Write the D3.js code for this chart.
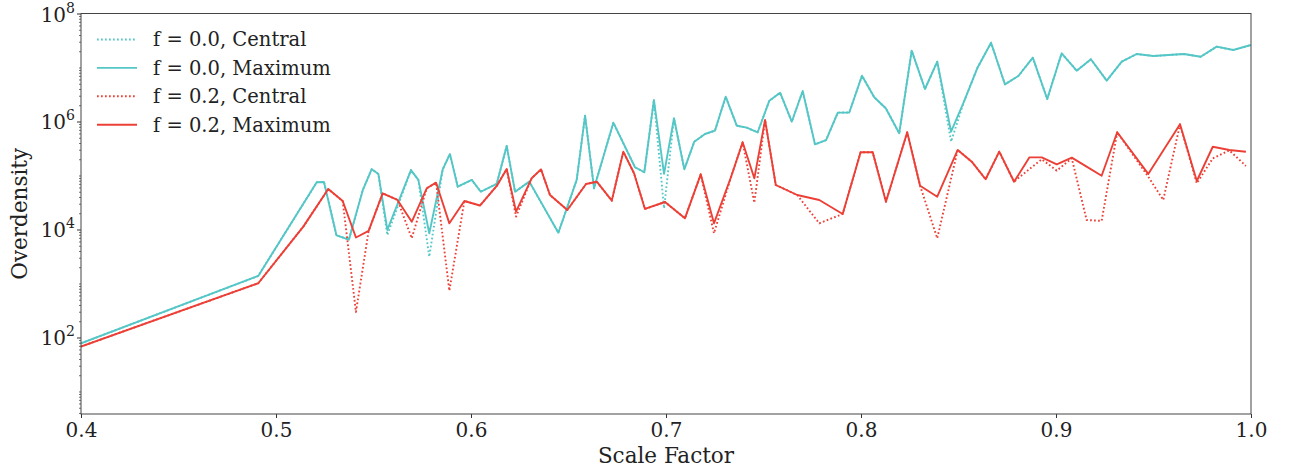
<!DOCTYPE html>
<html>
<head>
<meta charset="utf-8">
<script src="https://cdn.jsdelivr.net/npm/d3@7"></script>
<style>
  body { margin: 0; background: #fff; }
  svg { display: block; font-family: "DejaVu Serif", serif; }
</style>
</head>
<body>
<div id="chart"></div>
<script>
// scale factor grid of the f = 0.0 run
const cyanX = [
  0.4, 0.4909, 0.5209, 0.5246, 0.531, 0.5374, 0.5446, 0.5491, 0.5525, 0.5571,
  0.5692, 0.573, 0.5786, 0.5855, 0.5892, 0.5932, 0.6004, 0.605, 0.6132, 0.6183,
  0.6226, 0.6299, 0.6448, 0.6542, 0.6585, 0.6631, 0.673, 0.6841, 0.6889, 0.6938,
  0.699, 0.7041, 0.7094, 0.7145, 0.72, 0.7251, 0.7306, 0.7363, 0.7414, 0.747,
  0.753, 0.7585, 0.7645, 0.7701, 0.7764, 0.7821, 0.7881, 0.794, 0.8005, 0.8068,
  0.8127, 0.8196, 0.826, 0.8328, 0.8391, 0.8462, 0.8528, 0.8596, 0.8667, 0.8738,
  0.8807, 0.8881, 0.8955, 0.9029, 0.9106, 0.9179, 0.926, 0.9337, 0.9414, 0.9499,
  0.9576, 0.9656, 0.9742, 0.9824, 0.9909, 1.0
];
const cyanMax = [
  78, 1380, 75000, 76000, 7800, 6500, 55000, 131000, 107000, 9800,
  126000, 83000, 8500, 130000, 250000, 62000, 83000, 50000, 70000, 352000,
  50000, 77000, 8700, 83000, 1280000, 58000, 950000, 142000, 115000, 2500000,
  107000, 1150000, 130000, 423000, 587000, 676000, 2880000, 836000, 768000, 631000,
  2430000, 3410000, 991000, 3670000, 378000, 454000, 1460000, 1470000, 7050000, 2810000,
  1760000, 604000, 20500000, 4000000, 12800000, 647000, 2330000, 9660000, 28800000, 4880000,
  6960000, 15200000, 2610000, 18300000, 8720000, 14200000, 5700000, 12800000, 17800000, 16300000,
  17000000, 17800000, 15800000, 24300000, 21100000, 26100000
];
const cyanCentral = [
  78, 1380, 75000, 76000, 7800, 6500, 55000, 131000, 107000, 7900,
  126000, 83000, 3130, 130000, 250000, 62000, 83000, 50000, 70000, 352000,
  50000, 77000, 8700, 83000, 1280000, 58000, 950000, 142000, 115000, 2500000,
  24700, 1150000, 130000, 423000, 587000, 676000, 2880000, 836000, 768000, 631000,
  2430000, 3410000, 991000, 3670000, 378000, 454000, 1460000, 1470000, 7050000, 2810000,
  1760000, 604000, 20500000, 4000000, 12800000, 423000, 2330000, 9660000, 28800000, 4880000,
  6960000, 15200000, 2610000, 18300000, 8720000, 14200000, 5700000, 12800000, 17800000, 16300000,
  17000000, 17800000, 15800000, 24300000, 21100000, 26100000
];

// scale factor grid of the f = 0.2 run
const redX = [
  0.4, 0.4909, 0.514, 0.5268, 0.5342, 0.541, 0.5475, 0.5547, 0.5623, 0.5696,
  0.5773, 0.5821, 0.5889, 0.5966, 0.6046, 0.6132, 0.6183, 0.6231, 0.6311, 0.6359,
  0.6405, 0.6494, 0.659, 0.6645, 0.6722, 0.6781, 0.6836, 0.6892, 0.6995, 0.7097,
  0.7178, 0.7246, 0.7333, 0.7393, 0.7453, 0.7508, 0.7563, 0.7673, 0.7786, 0.7906,
  0.7998, 0.806, 0.8128, 0.8237, 0.8303, 0.8391, 0.8496, 0.8568, 0.8639, 0.8709,
  0.8785, 0.8864, 0.8927, 0.9004, 0.9081, 0.9157, 0.9234, 0.9314, 0.9473, 0.955,
  0.9636, 0.9722, 0.9804, 0.9889, 0.9974
];
const redMax = [
  68, 1010, 11300, 56000, 33700, 7100, 9400, 46800, 35200, 13900,
  58000, 73600, 13000, 33700, 27800, 64000, 132000, 21400, 88700, 130000,
  43500, 23000, 69600, 76700, 34200, 276000, 110000, 24000, 32300, 16100,
  105000, 13000, 92600, 412000, 88700, 1070000, 66700, 43500, 35200, 19400,
  269000, 269000, 32700, 631000, 64700, 40500, 297000, 180000, 85100, 276000,
  76700, 217000, 217000, 161000, 214000, 146000, 99100, 631000, 107000, 290000,
  887000, 79100, 341000, 297000, 276000
];
const redCentral = [
  68, 1010, 11300, 56000, 33700, 297, 9400, 46800, 35200, 6870,
  58000, 73600, 736, 33700, 27800, 64000, 132000, 17300, 88700, 130000,
  43500, 23000, 69600, 76700, 34200, 276000, 110000, 24000, 32300, 16100,
  105000, 8500, 92600, 412000, 31300, 1070000, 66700, 43500, 13000, 19400,
  269000, 269000, 32700, 631000, 64700, 6870, 297000, 180000, 85100, 276000,
  76700, 132000, 200000, 123000, 208000, 15000, 14400, 631000, 95000, 35200,
  887000, 71700, 208000, 292000, 150000
];

const xTicks = [0.4, 0.5, 0.6, 0.7, 0.8, 0.9, 1.0];
const yTickExps = [2, 4, 6, 8];
const seriesNames = ["f = 0.0, Central", "f = 0.0, Maximum", "f = 0.2, Central", "f = 0.2, Maximum"];

const width = 1290, height = 470;
const plotLeft = 81, plotRight = 1251, plotTop = 13.5, plotBottom = 414;
const cyan = "#55c6c6", red = "#ec4037";

const svg = d3.select("#chart").append("svg")
    .attr("width", width)
    .attr("height", height);

const x = d3.scaleLinear().domain([0.4, 1.0]).range([plotLeft, plotRight]);
const y = d3.scaleLog().domain([Math.pow(10, 0.583), 1e8]).range([plotBottom, plotTop]);

svg.append("clipPath").attr("id", "plot-clip")
    .append("rect")
    .attr("x", plotLeft).attr("y", plotTop)
    .attr("width", plotRight - plotLeft).attr("height", plotBottom - plotTop);

const series = [
    { xs: cyanX, ys: cyanCentral, color: cyan, dotted: true },
    { xs: cyanX, ys: cyanMax, color: cyan, dotted: false },
    { xs: redX, ys: redCentral, color: red, dotted: true },
    { xs: redX, ys: redMax, color: red, dotted: false }
];

const line = d3.line()
    .x(d => x(d[0]))
    .y(d => y(d[1]));

svg.append("g")
    .attr("clip-path", "url(#plot-clip)")
    .selectAll("path")
    .data(series)
    .enter()
    .append("path")
    .attr("d", s => line(d3.zip(s.xs, s.ys)))
    .attr("fill", "none")
    .attr("stroke", s => s.color)
    .attr("stroke-width", 1.9)
    .attr("stroke-linejoin", "round")
    .attr("stroke-dasharray", s => s.dotted ? "1.7,2.3" : null);

// x axis
const xAxis = svg.append("g")
    .attr("transform", `translate(0,${plotBottom})`)
    .call(d3.axisBottom(x).tickValues(xTicks).tickFormat(d3.format(".1f")).tickSize(4).tickPadding(5));
xAxis.select(".domain").remove();
xAxis.selectAll("line").attr("stroke", "#333");
xAxis.selectAll("text")
    .attr("fill", "#222")
    .style("font-family", "DejaVu Serif")
    .style("font-size", "20px");

// y axis: minor ticks 2..9 per decade
const minor = [];
for (let e = 0; e < 8; e++) {
    for (let k = 1; k <= 9; k++) {
        const v = k * Math.pow(10, e);
        if (k === 1 && e % 2 === 0) continue;
        if (v >= y.domain()[0] && v <= 1e8) minor.push(v);
    }
}
svg.append("g")
    .attr("transform", `translate(${plotLeft},0)`)
    .call(d3.axisLeft(y).tickValues(minor).tickFormat("").tickSize(2))
    .call(g => g.select(".domain").remove())
    .selectAll("line").attr("stroke", "#333").attr("stroke-width", 0.7);

const yAxis = svg.append("g")
    .attr("transform", `translate(${plotLeft},0)`)
    .call(d3.axisLeft(y).tickValues(yTickExps.map(e => Math.pow(10, e))).tickFormat("").tickSize(4));
yAxis.select(".domain").remove();
yAxis.selectAll("line").attr("stroke", "#333");

const yLabels = svg.append("g").selectAll("text")
    .data(yTickExps)
    .enter()
    .append("text")
    .attr("x", plotLeft - 6)
    .attr("y", e => y(Math.pow(10, e)) + 8)
    .attr("text-anchor", "end")
    .attr("fill", "#222")
    .style("font-size", "20px");
yLabels.append("tspan").text("10");
yLabels.append("tspan")
    .attr("dy", -9)
    .style("font-size", "14px")
    .text(e => e);

// frame
svg.append("rect")
    .attr("x", plotLeft).attr("y", plotTop)
    .attr("width", plotRight - plotLeft).attr("height", plotBottom - plotTop)
    .attr("fill", "none")
    .attr("stroke", "#444")
    .attr("stroke-width", 1);

// axis titles
svg.append("text")
    .attr("x", (plotLeft + plotRight) / 2)
    .attr("y", 463)
    .attr("text-anchor", "middle")
    .attr("fill", "#222")
    .style("font-size", "21.5px")
    .text("Scale Factor");

svg.append("text")
    .attr("transform", `translate(27,${(plotTop + plotBottom) / 2}) rotate(-90)`)
    .attr("text-anchor", "middle")
    .attr("fill", "#222")
    .style("font-size", "21.5px")
    .text("Overdensity");

// legend
const legend = svg.append("g").attr("transform", "translate(97,39.5)");
const rows = legend.selectAll("g")
    .data(series)
    .enter()
    .append("g")
    .attr("transform", (d, i) => `translate(0,${i * 28.4})`);
rows.append("line")
    .attr("x1", 0).attr("x2", 40)
    .attr("stroke", d => d.color)
    .attr("stroke-width", 1.9)
    .attr("stroke-dasharray", d => d.dotted ? "1.7,2.3" : null);
rows.append("text")
    .attr("x", 56)
    .attr("dy", "0.35em")
    .attr("fill", "#222")
    .style("font-size", "19.5px")
    .text((d, i) => seriesNames[i]);
</script>
</body>
</html>
